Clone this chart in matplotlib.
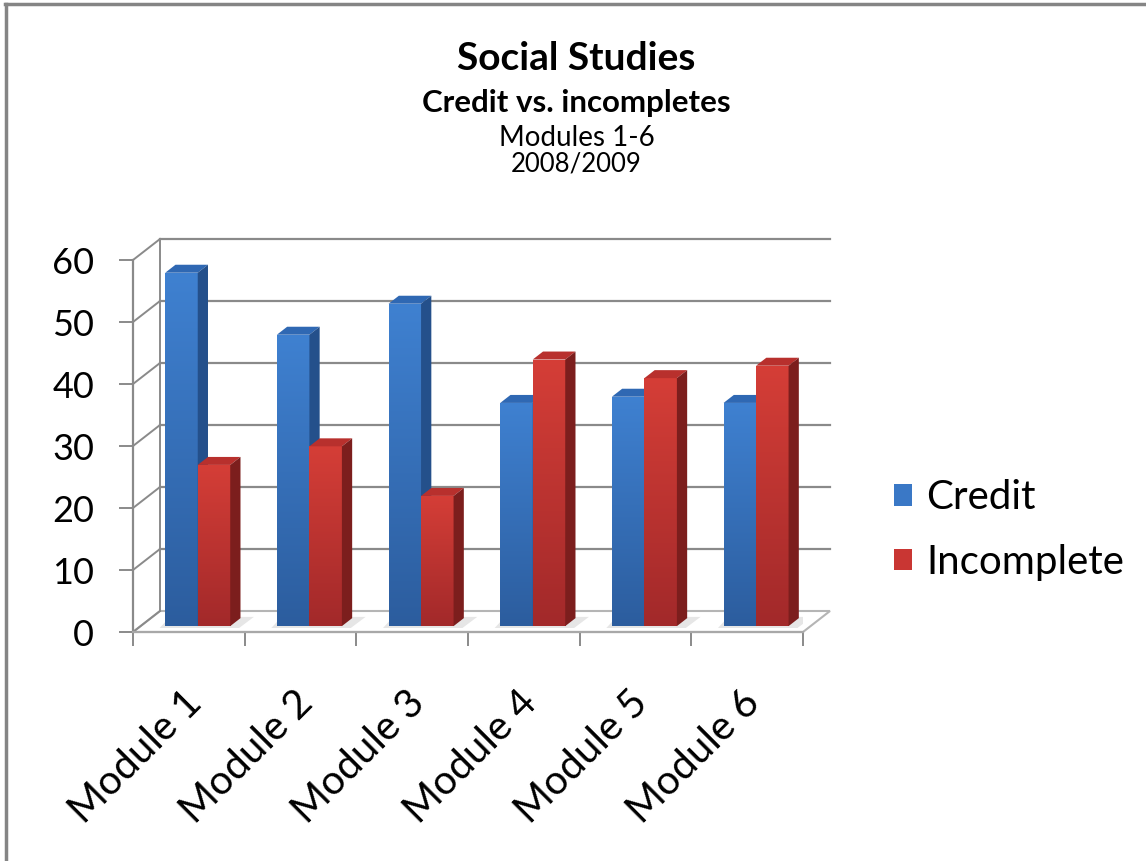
import numpy as np
import matplotlib.pyplot as plt
from matplotlib.patches import Polygon, Rectangle, Patch
from matplotlib.lines import Line2D
from matplotlib.colors import LinearSegmentedColormap

plt.rcParams['font.family'] = ['Lato', 'DejaVu Sans']

## data ##
modules = ['Module 1', 'Module 2', 'Module 3', 'Module 4', 'Module 5', 'Module 6']
credit = [57, 47, 52, 36, 37, 36]
incomplete = [26, 29, 21, 43, 40, 42]
series_names = ['Credit', 'Incomplete']
yticks = [0, 10, 20, 30, 40, 50, 60]

W, H = 1146, 861
fig = plt.figure(figsize=(W / 100, H / 100), dpi=100)
# front plane of the fake 3d box
ax = fig.add_axes([133 / W, 1 - 632 / H, 670 / W, 372 / H])
ax.set_xlim(0, len(modules))
ax.set_ylim(0, 60)

# depth of the box in data units (27px right, 21px up)
DX = 27 * len(modules) / 670
DY = 21 * 60 / 372
t0, t1 = 0.28, 0.66          # bars sit in this slice of the depth
bw = 32.5 * len(modules) / 670

grid_c = '#8a8a8a'

# floor
ax.add_patch(Polygon([(0, 0), (6, 0), (6 + DX, DY), (DX, DY)], closed=True,
                     facecolor='white', edgecolor='#b5b5b5', lw=1.5, zorder=1, clip_on=False))
# back wall gridlines + left wall
for v in yticks:
    if v > 0:
        ax.plot([DX, 6 + DX], [v + DY, v + DY], color=grid_c, lw=1.6, zorder=1, clip_on=False)
    ax.plot([0, DX], [v, v + DY], color=grid_c, lw=1.4, zorder=1, clip_on=False)
ax.plot([DX, DX], [DY, 60 + DY], color=grid_c, lw=1.4, zorder=1, clip_on=False)

blue_grad = LinearSegmentedColormap.from_list('b', ['#2c5d9e', '#3f81d1'])
red_grad = LinearSegmentedColormap.from_list('r', ['#a2292a', '#d53e37'])
styles = [(blue_grad, '#2f68b3', '#24508b'), (red_grad, '#b8302d', '#7c1e1d')]

grad = np.linspace(0, 1, 256).reshape(-1, 1)
dx = (t1 - t0) * DX
dy = (t1 - t0) * DY
base = t0 * DY
z = 3
for i in range(len(modules)):
    left = i + 0.5 + t0 * DX - bw + 0.012
    for k, vals in enumerate([credit, incomplete]):
        v = vals[i]
        x0 = left + k * bw
        cmap, top_c, side_c = styles[k]
        # floor shadow
        ax.add_patch(Polygon([(x0 - 0.05, base - 0.3), (x0 + bw + 0.08, base - 0.3),
                              (x0 + bw + dx + 0.12, base + dy + 0.2), (x0 + dx - 0.05, base + dy + 0.2)],
                             closed=True, facecolor='#e6e6e6', edgecolor='none', zorder=2))
        front = Rectangle((x0, base), bw, v, facecolor='none', edgecolor='none', zorder=z)
        ax.add_patch(front)
        im = ax.imshow(grad, extent=[x0, x0 + bw, base, base + v], origin='lower',
                       cmap=cmap, aspect='auto', zorder=z)
        im.set_clip_path(front)
        ax.add_patch(Polygon([(x0, base + v), (x0 + bw, base + v), (x0 + bw + dx, base + v + dy),
                              (x0 + dx, base + v + dy)], closed=True, facecolor=top_c,
                             edgecolor='none', zorder=z, clip_on=False))
        ax.add_patch(Polygon([(x0 + bw, base), (x0 + bw + dx, base + dy), (x0 + bw + dx, base + v + dy),
                              (x0 + bw, base + v)], closed=True, facecolor=side_c,
                             edgecolor='none', zorder=z, clip_on=False))
        z += 1

ax.set_xlim(0, len(modules))
ax.set_ylim(0, 60)

# axes styling
for s in ['top', 'right']:
    ax.spines[s].set_visible(False)
ax.spines['left'].set_color(grid_c)
ax.spines['left'].set_linewidth(1.6)
ax.spines['bottom'].set_color('#a8a8a8')
ax.spines['bottom'].set_linewidth(1.6)
ax.set_facecolor('none')

ax.set_yticks(yticks)
ax.tick_params(axis='y', direction='out', length=10, width=1.4, color=grid_c,
               labelsize=26, pad=18)
ax.set_xticks(range(len(modules) + 1))
ax.set_xticklabels([])
ax.tick_params(axis='x', which='major', direction='out', length=10, width=1.4, color=grid_c)
ax.set_xticks(np.arange(len(modules)) + 0.56, minor=True)
ax.set_xticklabels(modules, minor=True, rotation=45, ha='right', va='center',
                   rotation_mode='anchor', fontsize=29)
ax.tick_params(axis='x', which='minor', length=0, pad=47)

# titles
fig.text(0.503, 1 - 58 / H, 'Social Studies', ha='center', va='center', fontsize=28, fontweight='bold')
fig.text(0.503, 1 - 103 / H, 'Credit vs. incompletes', ha='center', va='center', fontsize=22.5, fontweight='bold')
fig.text(0.503, 1 - 138 / H, 'Modules 1-6', ha='center', va='center', fontsize=20)
fig.text(0.503, 1 - 164 / H, '2008/2009', ha='center', va='center', fontsize=18.5)

# legend
handles = [Patch(facecolor='#3a78c6'), Patch(facecolor='#c93633')]
fig.legend(handles, series_names, loc='center left', bbox_to_anchor=(858 / W, 1 - 530 / H),
           frameon=False, fontsize=29, handlelength=0.45, handleheight=0.45,
           handletextpad=0.35, labelspacing=0.68)

# chart border
fig.add_artist(Line2D([5 / W, 1], [1 - 4 / H, 1 - 4 / H], color='#858585', lw=2.5))
fig.add_artist(Line2D([6 / W, 6 / W], [0, 1 - 4 / H], color='#858585', lw=2.5))

fig.savefig('out.png', dpi=100)
